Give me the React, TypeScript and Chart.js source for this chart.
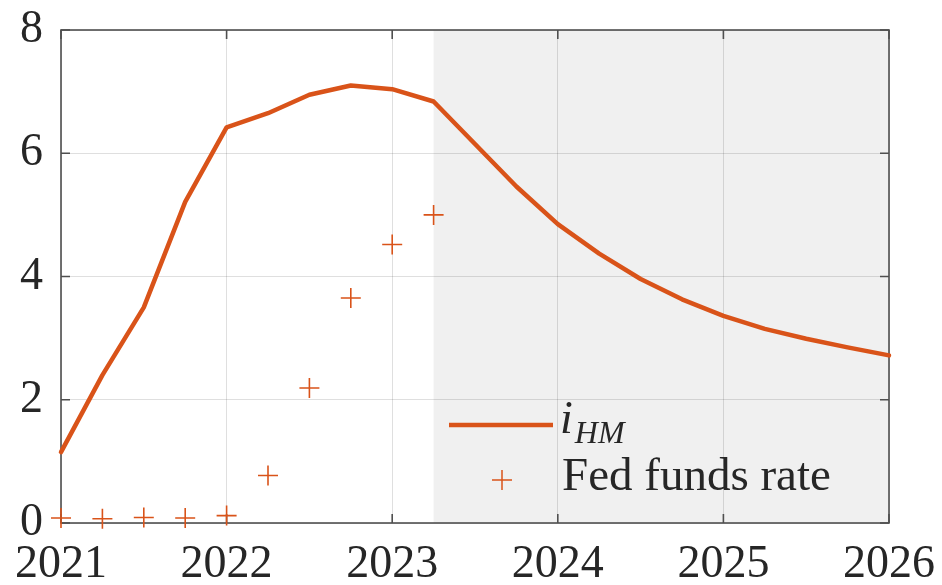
import React, { useEffect, useRef } from "react";
import { Chart, registerables } from "chart.js";

Chart.register(...registerables);

// Quarterly dates (decimal years) and the model-implied rate i_HM
const quarters = [
  2021, 2021.25, 2021.5, 2021.75,
  2022, 2022.25, 2022.5, 2022.75,
  2023, 2023.25, 2023.5, 2023.75,
  2024, 2024.25, 2024.5, 2024.75,
  2025, 2025.25, 2025.5, 2025.75,
  2026,
];
const iHM = [
  1.15, 2.4, 3.5, 5.21,
  6.42, 6.65, 6.95, 7.1,
  7.04, 6.84, 6.15, 5.46,
  4.85, 4.37, 3.96, 3.63,
  3.36, 3.15, 2.99, 2.85,
  2.72,
];

// Observed effective Fed funds rate
const fedQuarters = [
  2021, 2021.25, 2021.5, 2021.75,
  2022, 2022.25, 2022.5, 2022.75,
  2023, 2023.25,
];
const fedFunds = [0.08, 0.07, 0.09, 0.08, 0.12, 0.77, 2.19, 3.65, 4.52, 5.0];

const xTicks = [2021, 2022, 2023, 2024, 2025, 2026];
const yTicks = [0, 2, 4, 6, 8];
const forecastStart = 2023.25;

const ORANGE = "#D95319";
const TEXT = "#262626";
const FRAME = "#4f4f4f";
const SERIF = "'Liberation Serif', 'DejaVu Serif', serif";

const shadePlugin = {
  id: "forecastShade",
  beforeDraw(chart: any) {
    const { ctx, chartArea, scales } = chart;
    const x0 = scales.x.getPixelForValue(forecastStart);
    const x1 = scales.x.getPixelForValue(xTicks[xTicks.length - 1]);
    ctx.save();
    ctx.fillStyle = "#f0f0f0";
    ctx.fillRect(x0, chartArea.top, x1 - x0, chartArea.bottom - chartArea.top);
    ctx.restore();
  },
};

const framePlugin = {
  id: "boxFrame",
  beforeDatasetsDraw(chart: any) {
    const { ctx, chartArea, scales } = chart;
    const { left, right, top, bottom } = chartArea;
    const len = 9;
    ctx.save();
    ctx.strokeStyle = FRAME;
    ctx.lineWidth = 1.6;
    ctx.strokeRect(left, top, right - left, bottom - top);
    ctx.beginPath();
    for (const v of xTicks) {
      const px = scales.x.getPixelForValue(v);
      ctx.moveTo(px, bottom);
      ctx.lineTo(px, bottom - len);
      ctx.moveTo(px, top);
      ctx.lineTo(px, top + len);
    }
    for (const v of yTicks) {
      const py = scales.y.getPixelForValue(v);
      ctx.moveTo(left, py);
      ctx.lineTo(left + len, py);
      ctx.moveTo(right, py);
      ctx.lineTo(right - len, py);
    }
    ctx.stroke();
    ctx.restore();
  },
};

const legendPlugin = {
  id: "mathLegend",
  afterDraw(chart: any) {
    const { ctx } = chart;
    ctx.save();
    // line sample for i_HM
    ctx.strokeStyle = ORANGE;
    ctx.lineWidth = 4.5;
    ctx.beginPath();
    ctx.moveTo(449, 425);
    ctx.lineTo(553, 425);
    ctx.stroke();
    // cross sample for the Fed funds rate
    ctx.lineWidth = 1.5;
    ctx.beginPath();
    ctx.moveTo(492, 480);
    ctx.lineTo(512, 480);
    ctx.moveTo(502, 470);
    ctx.lineTo(502, 490);
    ctx.stroke();

    ctx.fillStyle = TEXT;
    ctx.textBaseline = "alphabetic";
    ctx.textAlign = "left";
    ctx.font = `italic 46px ${SERIF}`;
    ctx.fillText("i", 560, 433);
    const iw = ctx.measureText("i").width;
    ctx.font = `italic 32px ${SERIF}`;
    ctx.fillText("HM", 560 + iw + 2, 443);
    ctx.font = `47px ${SERIF}`;
    ctx.fillText("Fed funds rate", 562, 490);
    ctx.restore();
  },
};

export default function App() {
  const canvasRef = useRef<HTMLCanvasElement | null>(null);

  useEffect(() => {
    const canvas = canvasRef.current;
    if (!canvas) return;
    const chart = new Chart(canvas, {
      type: "line",
      data: {
        datasets: [
          {
            label: "i_HM",
            data: quarters.map((q, i) => ({ x: q, y: iHM[i] })),
            borderColor: ORANGE,
            backgroundColor: ORANGE,
            borderWidth: 4.5,
            pointRadius: 0,
            tension: 0,
            borderJoinStyle: "round",
            borderCapStyle: "round",
            clip: false,
          },
          {
            label: "Fed funds rate",
            data: fedQuarters.map((q, i) => ({ x: q, y: fedFunds[i] })),
            showLine: false,
            pointStyle: "cross",
            pointRadius: 10,
            pointBorderWidth: 1.6,
            borderColor: ORANGE,
            backgroundColor: ORANGE,
            clip: false,
          },
        ],
      },
      options: {
        responsive: false,
        animation: false,
        events: [],
        layout: { padding: { top: 30, right: 53, left: 0, bottom: 0 } },
        plugins: {
          legend: { display: false },
          tooltip: { enabled: false },
        },
        scales: {
          x: {
            type: "linear",
            min: xTicks[0],
            max: xTicks[xTicks.length - 1],
            afterBuildTicks: (scale: any) => {
              scale.ticks = xTicks.map((v) => ({ value: v }));
            },
            afterFit: (scale: any) => {
              scale.height = 62;
              scale.paddingLeft = 0;
              scale.paddingRight = 0;
              scale.paddingTop = 0;
              scale.paddingBottom = 0;
            },
            ticks: {
              autoSkip: false,
              maxRotation: 0,
              padding: 14,
              color: TEXT,
              font: { family: SERIF, size: 46 },
              callback: (v: any) => String(v),
            },
            grid: { color: "rgba(38,38,38,0.15)", lineWidth: 1, drawTicks: false },
            border: { display: false },
          },
          y: {
            type: "linear",
            min: yTicks[0],
            max: yTicks[yTicks.length - 1],
            afterBuildTicks: (scale: any) => {
              scale.ticks = yTicks.map((v) => ({ value: v }));
            },
            afterFit: (scale: any) => {
              scale.width = 61;
              scale.paddingLeft = 0;
              scale.paddingRight = 0;
              scale.paddingTop = 0;
              scale.paddingBottom = 0;
            },
            ticks: {
              padding: 18,
              color: TEXT,
              font: { family: SERIF, size: 46 },
              callback: (v: any) => String(v),
            },
            grid: { color: "rgba(38,38,38,0.15)", lineWidth: 1, drawTicks: false },
            border: { display: false },
          },
        },
      },
      plugins: [shadePlugin, framePlugin, legendPlugin],
    } as any);
    return () => chart.destroy();
  }, []);

  return (
    <div style={{ position: "absolute", left: 0, top: 0, width: 942, height: 585, background: "#fff" }}>
      <canvas ref={canvasRef} width={942} height={585} />
    </div>
  );
}
